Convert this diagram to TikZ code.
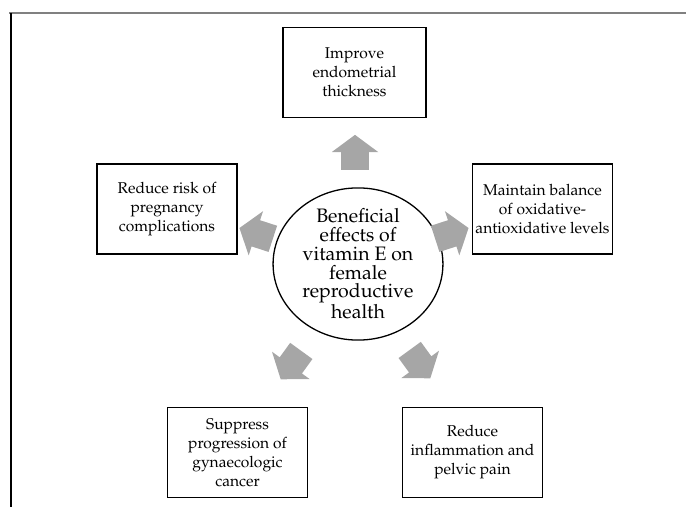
\documentclass[tikz,border=0pt]{standalone}
\usepackage[T1]{fontenc}
\usepackage{mathpazo}
\usepackage{tikz}
\usetikzlibrary{shapes.geometric, shapes.arrows}
\definecolor{arrowgray}{RGB}{166,166,166}
\definecolor{framegray}{RGB}{128,128,128}

\begin{document}
\begin{tikzpicture}[x=0.77pt, y=-0.77pt,
        box/.style={rectangle, draw, line width=1.2pt, minimum width=108pt, minimum height=69pt, inner sep=1pt, align=center, font=\fontsize{12}{14.6}\selectfont},
        hub/.style={shape=ellipse, draw, line width=1pt, inner xsep=3.5pt, inner ysep=-1pt, align=center, font=\fontsize{15}{14.4}\selectfont},
        blockarrow/.style={single arrow, draw=none, fill=arrowgray, inner xsep=0pt, inner ysep=10.4pt, single arrow head extend=7.3pt, single arrow tip angle=107, single arrow head indent=0pt, minimum height=27pt},
    ]
        \useasboundingbox (0,0) rectangle (686,507);

        % Frame
        \draw[framegray, line width=0.8pt] (9,13) -- (686,13);
        \draw[line width=0.8pt] (11,13) -- (11,507);

        % Center
        \node[hub] (vite) at (358,264) {Beneficial\\effects of\\vitamin E on\\female\\reproductive\\health};

        % Effect boxes
        \node[box, minimum width=110pt] (endo) at (354.5, 72.5) {Improve\\endometrial\\thickness};
        \node[box] (preg) at (167,   209)   {Reduce risk of\\pregnancy\\complications};
        \node[box] (oxid) at (542.5, 209)   {Maintain balance\\of oxidative-\\antioxidative levels};
        \node[box] (canc) at (237.5, 452.5) {Suppress\\progression of\\gynaecologic\\cancer};
        \node[box] (infl) at (472.5, 452.5) {Reduce\\inflammation and\\pelvic pain};

        % Block arrows
        \foreach \a/\x/\y/\n in {90/355/157.5/endo, 162/261/235/preg, 18/447/235/oxid, 234/294/361/canc, 306/417/360/infl}
            \node[blockarrow, rotate=\a] (arr-\n) at (\x,\y) {};
    \end{tikzpicture}
\end{document}
